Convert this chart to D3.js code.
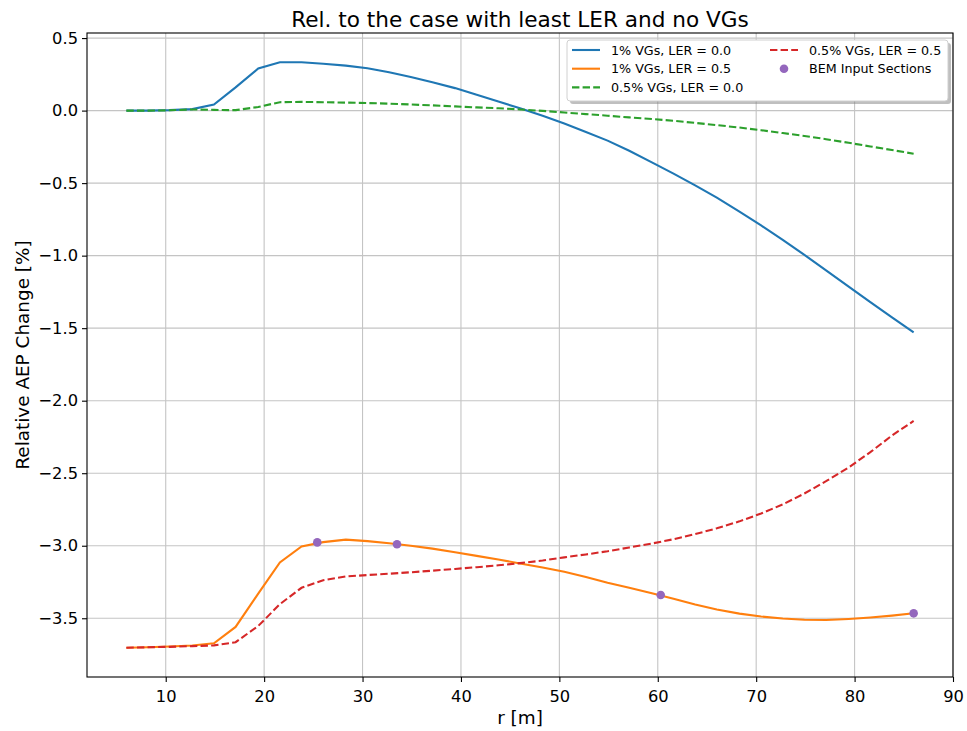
<!DOCTYPE html>
<html>
<head>
<meta charset="utf-8">
<script src="https://cdn.jsdelivr.net/npm/d3@7"></script>
<style>
  html, body { margin: 0; padding: 0; background: #fff; }
  svg { display: block; font-family: "DejaVu Sans", sans-serif; }
</style>
</head>
<body>
<div id="chart"></div>
<script>
// radial stations [m]
const radius = [6, 8.2, 10.4, 12.7, 14.9, 17.1, 19.4, 21.6, 23.8, 26, 28.3, 30.5, 32.7, 34.9,
  37.1, 39.4, 41.6, 43.8, 46, 48.3, 50.5, 52.7, 54.9, 57.1, 59.4, 61.6, 63.8, 66, 68.3,
  70.5, 72.7, 74.9, 77.1, 79.4, 81.6, 83.8, 86];

const vg1Ler0 = [0, 0, 0.003, 0.01, 0.042, 0.16, 0.29, 0.333, 0.333, 0.323, 0.31, 0.292, 0.265,
  0.232, 0.195, 0.155, 0.11, 0.062, 0.016, -0.036, -0.089, -0.147, -0.207, -0.277, -0.357, -0.435,
  -0.516, -0.6, -0.697, -0.792, -0.891, -0.995, -1.101, -1.213, -1.32, -1.425, -1.529];

const vg1Ler05 = [-3.703, -3.7, -3.695, -3.688, -3.673, -3.56, -3.33, -3.115, -3.005, -2.975,
  -2.958, -2.968, -2.983, -3.0, -3.02, -3.045, -3.07, -3.095, -3.122, -3.15, -3.18, -3.215,
  -3.255, -3.29, -3.328, -3.365, -3.405, -3.44, -3.468, -3.488, -3.502, -3.51, -3.512, -3.505,
  -3.495, -3.482, -3.466];

const vg05Ler0 = [0, 0, 0.002, 0.008, 0.005, 0.003, 0.025, 0.058, 0.06, 0.058, 0.055, 0.052,
  0.048, 0.042, 0.036, 0.029, 0.022, 0.016, 0.008, -0.002, -0.013, -0.024, -0.035, -0.047,
  -0.058, -0.07, -0.085, -0.1, -0.117, -0.135, -0.155, -0.175, -0.197, -0.222, -0.247, -0.272,
  -0.297];

const vg05Ler05 = [-3.703, -3.7, -3.697, -3.692, -3.687, -3.665, -3.553, -3.403, -3.29, -3.238,
  -3.212, -3.202, -3.193, -3.183, -3.172, -3.16, -3.148, -3.135, -3.12, -3.102, -3.08, -3.06,
  -3.038, -3.012, -2.985, -2.955, -2.92, -2.88, -2.832, -2.778, -2.715, -2.64, -2.555, -2.46,
  -2.355, -2.24, -2.14];

const bemR = [25.4, 33.5, 60.3, 86];
const bemVal = [-2.977, -2.99, -3.34, -3.466];

const xTicks = [10, 20, 30, 40, 50, 60, 70, 80, 90];
const yTicks = [0.5, 0, -0.5, -1, -1.5, -2, -2.5, -3, -3.5];

const series = [
  { label: '1% VGs, LER = 0.0', values: vg1Ler0, color: '#1f77b4', dash: null },
  { label: '1% VGs, LER = 0.5', values: vg1Ler05, color: '#ff7f0e', dash: null },
  { label: '0.5% VGs, LER = 0.0', values: vg05Ler0, color: '#2ca02c', dash: '7.4,3.2' },
  { label: '0.5% VGs, LER = 0.5', values: vg05Ler05, color: '#d62728', dash: '7.4,3.2' }
];

const W = 967, H = 731;
const margin = { top: 33, right: 14, bottom: 54, left: 87 };
const width = W - margin.left - margin.right;
const height = H - margin.top - margin.bottom;

const svg = d3.select('#chart').append('svg')
  .attr('width', W).attr('height', H);

const g = svg.append('g')
  .attr('transform', `translate(${margin.left},${margin.top})`);

const x = d3.scaleLinear().domain([2, 90]).range([0, width]);
const y = d3.scaleLinear().domain([-3.905, 0.535]).range([height, 0]);

// grid
g.append('g').selectAll('line').data(xTicks).enter().append('line')
  .attr('x1', d => x(d)).attr('x2', d => x(d))
  .attr('y1', 0).attr('y2', height)
  .attr('stroke', '#c4c4c4').attr('stroke-width', 1.1);
g.append('g').selectAll('line').data(yTicks).enter().append('line')
  .attr('x1', 0).attr('x2', width)
  .attr('y1', d => y(d)).attr('y2', d => y(d))
  .attr('stroke', '#c4c4c4').attr('stroke-width', 1.1);

const fmtY = d => d3.format('.1f')(d).replace('-', '\u2212');

const xAxis = g.append('g')
  .attr('transform', `translate(0,${height})`)
  .call(d3.axisBottom(x).tickValues(xTicks).tickSize(5).tickPadding(5).tickFormat(d3.format('d')));
const yAxis = g.append('g')
  .call(d3.axisLeft(y).tickValues(yTicks).tickSize(5).tickPadding(4).tickFormat(fmtY));

[xAxis, yAxis].forEach(a => {
  a.select('.domain').remove();
  a.selectAll('text').attr('font-size', 16.3).attr('fill', '#000')
    .attr('font-family', '"DejaVu Sans", sans-serif');
  a.selectAll('line').attr('stroke', '#000').attr('stroke-width', 1.1);
});
xAxis.selectAll('text').attr('dy', '0.95em');

// lines
const line = d3.line()
  .x((d, i) => x(radius[i]))
  .y(d => y(d));

g.append('g').selectAll('path').data(series).enter().append('path')
  .attr('d', d => line(d.values))
  .attr('fill', 'none')
  .attr('stroke', d => d.color)
  .attr('stroke-width', 2.1)
  .attr('stroke-dasharray', d => d.dash);

g.append('g').selectAll('circle').data(bemR).enter().append('circle')
  .attr('cx', d => x(d))
  .attr('cy', (d, i) => y(bemVal[i]))
  .attr('r', 4.3)
  .attr('fill', '#9467bd');

// frame
g.append('rect')
  .attr('width', width).attr('height', height)
  .attr('fill', 'none').attr('stroke', '#000').attr('stroke-width', 1.1);

// titles
svg.append('text')
  .attr('x', margin.left + width / 2).attr('y', 27)
  .attr('text-anchor', 'middle').attr('font-size', 21.6)
  .text('Rel. to the case with least LER and no VGs');

svg.append('text')
  .attr('x', margin.left + width / 2).attr('y', 724)
  .attr('text-anchor', 'middle').attr('font-size', 18.4)
  .text('r [m]');

svg.append('text')
  .attr('transform', `translate(29,${margin.top + height / 2}) rotate(-90)`)
  .attr('text-anchor', 'middle').attr('font-size', 18.4)
  .text('Relative AEP Change [%]');

// legend
const legend = svg.append('g').attr('transform', 'translate(567,40)');
legend.append('rect')
  .attr('x', 3).attr('y', 3).attr('width', 381).attr('height', 61)
  .attr('rx', 3).attr('fill', '#7f7f7f').attr('opacity', 0.5);
legend.append('rect')
  .attr('width', 381).attr('height', 61).attr('rx', 3)
  .attr('fill', '#fff').attr('stroke', '#d0d0d0').attr('stroke-width', 1);

const legendItems = [
  { s: series[0], col: 0, row: 0 },
  { s: series[1], col: 0, row: 1 },
  { s: series[2], col: 0, row: 2 },
  { s: series[3], col: 1, row: 0 },
  { s: { label: 'BEM Input Sections', color: '#9467bd', marker: true }, col: 1, row: 1 }
];

const items = legend.selectAll('g.item').data(legendItems).enter().append('g')
  .attr('class', 'item')
  .attr('transform', d => `translate(${d.col === 0 ? 5 : 203},${10 + d.row * 18.7})`);

items.filter(d => !d.s.marker).append('line')
  .attr('x1', 0).attr('x2', 28).attr('y1', 0).attr('y2', 0)
  .attr('stroke', d => d.s.color).attr('stroke-width', 2.1)
  .attr('stroke-dasharray', d => d.s.dash ? '7.4,3.2' : null);
items.filter(d => d.s.marker).append('circle')
  .attr('cx', 14).attr('cy', 0).attr('r', 4.3).attr('fill', d => d.s.color);
items.append('text')
  .attr('x', 39).attr('y', 0).attr('dy', '0.36em')
  .attr('font-size', 12.7).attr('fill', '#000')
  .text(d => d.s.label);
</script>
</body>
</html>
